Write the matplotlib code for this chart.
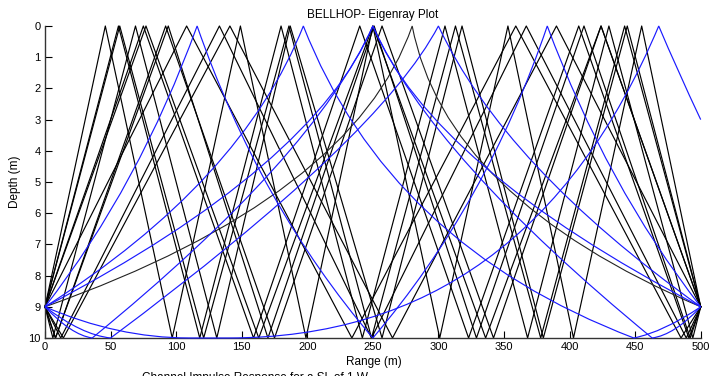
import matplotlib
matplotlib.use('Agg')
import matplotlib.pyplot as plt
from matplotlib.path import Path
from matplotlib.patches import PathPatch

# ---------------- text ----------------
title_text = 'BELLHOP- Eigenray Plot'
xlabel_text = 'Range (m)'
ylabel_text = 'Depth (m)'
next_plot_title = 'Channel Impulse Response for a SL of 1 W'
x_ticks = [0, 50, 100, 150, 200, 250, 300, 350, 400, 450, 500]
y_ticks = [0, 1, 2, 3, 4, 5, 6, 7, 8, 9, 10]

# ---------------- geometry of the channel ----------------
source_range, source_depth = 0, 9
receiver_range, receiver_depth = 500, 9
surface_depth, bottom_depth = 0, 10

# ---------------- black eigenrays (nearly straight) ----------------
# first boundary hit ('S' surface / 'B' bottom) and ranges of the successive bounces
black_first = ['S', 'S', 'S', 'S', 'S', 'S', 'B', 'B', 'B', 'B', 'B']
black_bounces = [
    [46, 97, 149, 199, 250, 301, 353, 403, 455],
    [56, 118, 180, 242, 305, 368, 430, 494],
    [57, 121, 186, 249, 313, 378, 442],
    [75, 159, 240, 323, 407, 491],
    [77, 163, 250, 336, 424],
    [108, 234, 359, 485],
    [14, 141, 265, 390],
    [12, 133, 249, 367, 489],
    [8, 92, 175, 257, 342, 424],
    [8, 94, 170, 251, 329, 411, 492],
    [6, 69, 131, 187, 257, 318, 380, 444],
]

# ---------------- curved eigenrays: anchor points + curve control points ----------------
blue_anchors = [
    [(0, 9), (116, 0), (250, 10), (383, 0), (500, 9)],
    [(0, 9), (250, 0), (500, 9)],
    [(0, 9), (197, 0), (449, 10), (500, 9)],
    [(0, 9), (50, 10), (300, 0), (500, 9)],
    [(0, 9), (36, 10), (250, 0), (463, 10), (500, 9)],
    [(0, 9), (110, 10), (140, 10), (468, 0), (500, 3)],
]
blue_controls = [
    [(72, 5.1), (163, 5.7), (337, 5.7), (428, 5.1)],
    [(205, 4.5), (295, 4.5)],
    [(150, 5.0), (262, 7.0), (472, 9.8)],
    [(28, 9.9), (255, 3.6), (350, 4.5)],
    [(20, 9.9), (205, 4.2), (295, 4.2), (480, 9.9)],
    [(55, 10), (125, 10), (368, 10), (482, 1.4)],
]
curved_black_anchors = [[(0, 9), (280, 0), (500, 9)]]
curved_black_controls = [[(235, 5.5), (305, 5.5)]]

# ---------------- figure ----------------
plt.rcParams['font.family'] = ['Liberation Sans', 'DejaVu Sans']
fig = plt.figure(figsize=(7.15, 3.76), dpi=100)
ax = fig.add_axes([45 / 715, 38 / 376, 655.7 / 715, 312 / 376])

BLACK = '#000000'
BLUE = '#1a1aff'


def curve_patch(anchors, controls, color, lw):
    verts = [anchors[0]]
    codes = [Path.MOVETO]
    for c, p in zip(controls, anchors[1:]):
        verts += [c, p]
        codes += [Path.CURVE3, Path.CURVE3]
    return PathPatch(Path(verts, codes), facecolor='none', edgecolor=color,
                     lw=lw, clip_on=False, zorder=3)


for first, bounces in zip(black_first, black_bounces):
    xs = [source_range] + bounces + [receiver_range]
    zs = [source_depth]
    cur = surface_depth if first == 'S' else bottom_depth
    for _ in bounces:
        zs.append(cur)
        cur = bottom_depth if cur == surface_depth else surface_depth
    zs.append(receiver_depth)
    ax.plot(xs, zs, color=BLACK, lw=0.85, clip_on=False, zorder=2)

for anc, ctl in zip(curved_black_anchors, curved_black_controls):
    ax.add_patch(curve_patch(anc, ctl, '#222222', 0.8))

for anc, ctl in zip(blue_anchors, blue_controls):
    ax.add_patch(curve_patch(anc, ctl, BLUE, 0.85))

ax.set_xlim(0, 500)
ax.set_ylim(10, 0)
ax.set_xticks(x_ticks)
ax.set_yticks(y_ticks)
ax.tick_params(direction='in', length=5, width=0.8, labelsize=8, pad=3,
               colors='#000000')
for side in ['top', 'right']:
    ax.spines[side].set_visible(False)
for side in ['left', 'bottom']:
    ax.spines[side].set_color('#333333')
    ax.spines[side].set_linewidth(1.0)

ax.set_title(title_text, fontsize=8.5, pad=6)
ax.set_xlabel(xlabel_text, fontsize=8.5)
ax.set_ylabel(ylabel_text, fontsize=8.5)
ax.xaxis.set_label_coords(0.502, -0.058)
ax.yaxis.set_label_coords(-0.036, 0.5)

# title of the next (cropped) panel: only its upper part shows, as in the reference
fig.text(141.7 / 715, (376 - 371.5) / 376, next_plot_title, fontsize=8.5,
         ha='left', va='top')

fig.savefig('out.png', dpi=100)
